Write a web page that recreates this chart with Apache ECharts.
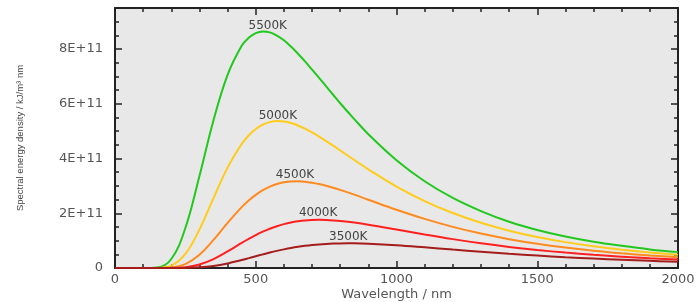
<!DOCTYPE html>
<html><head><meta charset="utf-8">
<script src="https://cdn.jsdelivr.net/npm/echarts@6/dist/echarts.min.js"></script>
<style>html,body{margin:0;padding:0;background:#fff}#c{width:696px;height:302px}</style>
</head><body><div id="c"></div>
<script>
// Wavelength (nm) sample points
const wavelengths = [0,100,150,200,250,300,350,400,450,475,500,525,550,575,600,625,650,675,700,725,750,775,800,850,900,1000,1100,1200,1300,1400,1500,1600,1700,1800,1900,2000];
// Spectral energy density
const values5500K = [0,0,0.02e11,0.33e11,1.46e11,3.36e11,5.40e11,7.06e11,8.12e11,8.41e11,8.58e11,8.64e11,8.61e11,8.49e11,8.32e11,8.09e11,7.83e11,7.55e11,7.25e11,6.95e11,6.64e11,6.33e11,6.02e11,5.44e11,4.89e11,3.94e11,3.17e11,2.56e11,2.08e11,1.69e11,1.39e11,1.15e11,0.96e11,0.81e11,0.68e11,0.58e11];
const values5000K = [0,0,0.003e11,0.088e11,0.513e11,1.404e11,2.556e11,3.667e11,4.528e11,4.843e11,5.077e11,5.238e11,5.33e11,5.367e11,5.352e11,5.296e11,5.208e11,5.091e11,4.952e11,4.801e11,4.638e11,4.469e11,4.294e11,3.946e11,3.606e11,2.977e11,2.446e11,2.008e11,1.651e11,1.364e11,1.132e11,0.945e11,0.793e11,0.670e11,0.569e11,0.485e11];
const values4500K = [0,0,0,0.018e11,0.143e11,0.483e11,1.026e11,1.649e11,2.224e11,2.468e11,2.673e11,2.843e11,2.975e11,3.069e11,3.131e11,3.163e11,3.169e11,3.153e11,3.117e11,3.068e11,3.006e11,2.934e11,2.853e11,2.680e11,2.495e11,2.129e11,1.794e11,1.503e11,1.257e11,1.054e11,0.886e11,0.747e11,0.633e11,0.539e11,0.460e11,0.396e11];
const values4000K = [0,0,0,0.002e11,0.029e11,0.128e11,0.327e11,0.607e11,0.915e11,1.063e11,1.201e11,1.326e11,1.436e11,1.528e11,1.604e11,1.664e11,1.707e11,1.737e11,1.753e11,1.759e11,1.754e11,1.740e11,1.719e11,1.660e11,1.584e11,1.407e11,1.225e11,1.055e11,0.902e11,0.770e11,0.658e11,0.562e11,0.482e11,0.415e11,0.358e11,0.310e11];
const values3500K = [0,0,0,0,0.004e11,0.023e11,0.075e11,0.168e11,0.292e11,0.360e11,0.430e11,0.498e11,0.564e11,0.625e11,0.680e11,0.730e11,0.773e11,0.809e11,0.839e11,0.863e11,0.880e11,0.892e11,0.899e11,0.901e11,0.888e11,0.833e11,0.757e11,0.675e11,0.595e11,0.520e11,0.454e11,0.395e11,0.344e11,0.300e11,0.262e11,0.229e11];
const seriesNames = ['5500K','5000K','4500K','4000K','3500K'];
const seriesValues = [values5500K, values5000K, values4500K, values4000K, values3500K];
const xTitle = 'Wavelength / nm';
const yTitle = 'Spectral energy density / kJ/m³ nm';

const colors = ['#22c81e','#ffcc1a','#ff8a1e','#ff2020','#a51c1c'];
const labelOffsets = [[5,-6],[1,-5.5],[-3,-6],[-1,-6.5],[-6,-6]];
const axisColor = '#222';
const labelFont = {color:'#555', fontFamily:'DejaVu Sans', fontSize:13};

function xAx(pos, showLabel){
  return {type:'value', position:pos, min:0, max:2000, interval:500,
    axisLine:{show:true,onZero:false,lineStyle:{color:axisColor,width:2}},
    axisTick:{show:true,inside:true,length:7,lineStyle:{color:axisColor,width:1.5}},
    minorTick:{show:true,splitNumber:5,length:4,lineStyle:{color:axisColor,width:1.5}},
    splitLine:{show:false}, minorSplitLine:{show:false},
    axisLabel:Object.assign({show:showLabel, margin:5, formatter:v=>String(v)}, labelFont),
    name: showLabel ? xTitle : '', nameLocation:'middle', nameGap:20, nameMoveOverlap:false,
    nameTextStyle:{color:'#555', fontFamily:'DejaVu Sans', fontSize:13}
  };
}
function yAx(pos, interval, tickLen, showLine, showLabel){
  return {type:'value', position:pos, min:0, max:9.5e11, interval:interval,
    axisLine:{show:showLine,onZero:false,lineStyle:{color:axisColor,width:2}},
    axisTick:{show:true,inside:true,length:tickLen,lineStyle:{color:axisColor,width:1.5}},
    splitLine:{show:false},
    axisLabel:Object.assign({show:showLabel, margin:12, showMaxLabel:false,
      formatter:v=> v===0 ? '0' : Math.round(v/1e11)+'E+11'}, labelFont),
    name: showLabel ? yTitle : '', nameLocation:'middle', nameGap:90, nameMoveOverlap:false,
    nameTextStyle:{color:'#444', fontFamily:'Liberation Sans', fontSize:9.5}
  };
}

const chart = echarts.init(document.getElementById('c'), null, {renderer:'canvas'});
chart.setOption({
  animation:false,
  backgroundColor:'#fff',
  grid:{left:115, right:18, top:8, bottom:34, containLabel:false, outerBoundsMode:'none',
        show:true, backgroundColor:'#e8e8e8', borderWidth:0},
  xAxis:[xAx('bottom',true), xAx('top',false)],
  yAxis:[yAx('left',2e11,7,true,true), yAx('right',2e11,7,true,false), yAx('left',0.5e11,4,false,false), yAx('right',0.5e11,4,false,false)],
  series: seriesNames.map((name,i)=>({
    name:name, type:'line', xAxisIndex:0, yAxisIndex:0,
    data: wavelengths.map((w,j)=>[w, seriesValues[i][j]]),
    showSymbol:false, smooth:0.4,
    lineStyle:{color:colors[i], width:2},
    itemStyle:{color:colors[i]},
    markPoint:{symbol:'circle', symbolSize:0,
      data:[{type:'max'}],
      label:{show:true, position:'inside', offset:labelOffsets[i], formatter:name,
        color:'#444', fontFamily:'DejaVu Sans', fontSize:12}
    }
  }))
});
</script></body></html>
